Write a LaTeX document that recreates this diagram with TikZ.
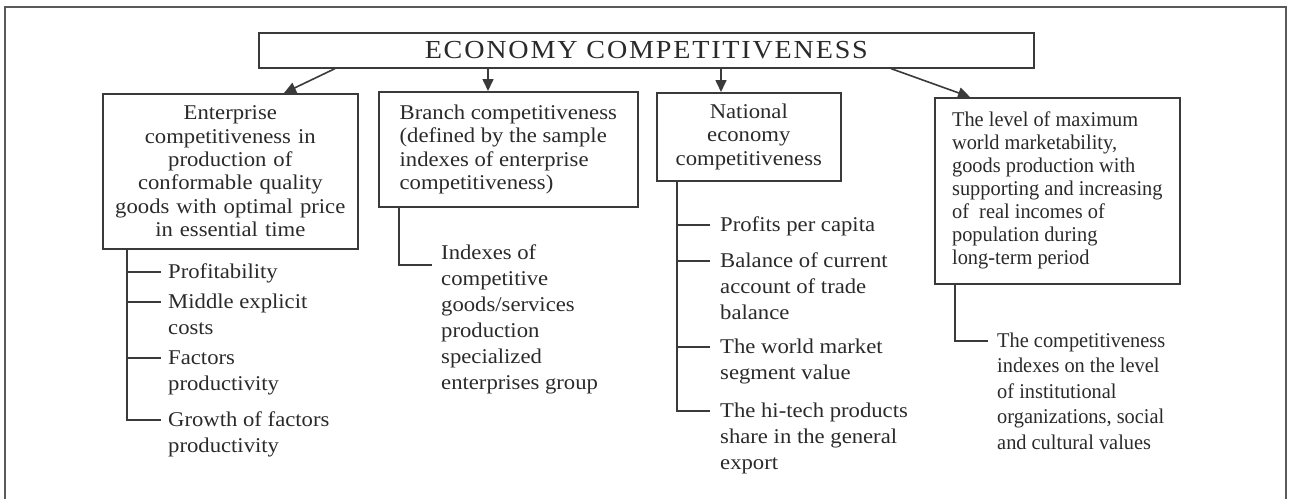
\documentclass[tikz,border=0pt]{standalone}
\usepackage{fontspec}
\setmainfont[FakeStretch=1.08]{Liberation Serif}
\newfontfamily\narrowserif[FakeStretch=0.97]{Liberation Serif}
\usetikzlibrary{arrows.meta}
\definecolor{ink}{HTML}{2A2A2A}
\definecolor{rule}{HTML}{3A3A3A}
\definecolor{framegray}{HTML}{5A5A5A}
% a left-aligned stack of lines whose baseline is that of its first line
\newcommand\itemlines[1]{\vtop{\halign{##\hfil\cr#1\crcr}}}
\tikzset{
  box/.style={draw=rule, line width=1.6pt, anchor=north west, inner ysep=0pt,
    text=ink, font=\fontsize{21}{23.3}\selectfont},
  cbox/.style={box, align=center, inner xsep=4pt},
  lbox/.style={box, align=left, inner xsep=0pt},
  item/.style={anchor=base west, inner sep=0pt, text=ink,
    font=\fontsize{21}{26}\selectfont},
  link/.style={draw=rule, line width=1.6pt},
  arr/.style={link, -{Triangle[length=12pt,width=11pt]}},
}
\begin{document}
\begin{tikzpicture}[x=1pt,y=-1pt]
\useasboundingbox (0,0) rectangle (1289,499);
% open outer frame
\draw[framegray, line width=1.5pt] (5,499) -- (5,7) -- (1286,7) -- (1286,499);

% title
\node[draw=rule, line width=1.6pt, anchor=north west, minimum width=775pt,
  minimum height=35pt, inner sep=0pt, text=ink,
  font=\fontsize{26}{30}\selectfont] (title) at (258,32)
  {\addfontfeature{LetterSpace=7}ECONOMY COMPETITIVENESS};

% four levels
\node[cbox, text width=247pt, minimum width=255pt, minimum height=155pt] (b1) at (102,93)
  {Enterprise\\competitiveness in\\production of\\conformable quality\\goods with optimal price\\in essential time};
\node[lbox, minimum width=259pt, minimum height=115pt] (b2) at (378,91)
  {Branch competitiveness\\(defined by the sample\\indexes of enterprise\\competitiveness)};
\node[cbox, text width=176pt, minimum width=184pt, minimum height=88pt] (b3) at (656,92)
  {National\\economy\\competitiveness};
\node[lbox, minimum width=245pt, minimum height=186pt,
  font=\narrowserif\fontsize{21}{23}\selectfont] (b4) at (934,97)
  {The level of maximum\\world marketability,\\goods production with\\supporting and increasing\\of\ \ real incomes of\\population during\\long-term period};

% arrows from the title
\draw[arr] ([xshift=77pt]title.south west) -- ([xshift=182pt]b1.north west);
\draw[arr] ([xshift=230pt]title.south west) -- ([xshift=110pt]b2.north west);
\draw[arr] ([xshift=463pt]title.south west) -- ([xshift=65pt]b3.north west);
\draw[arr] ([xshift=633pt]title.south west) -- ([xshift=36pt]b4.north west);

% enterprise indicators
\coordinate (j1) at ([xshift=25pt]b1.south west);
\coordinate (t11) at (161,272);
\coordinate (t12) at (161,302);
\coordinate (t13) at (161,358);
\coordinate (t14) at (161,420);
\node[item, xshift=7pt, yshift=-6pt] (i11) at (t11) {Profitability};
\node[item, xshift=7pt, yshift=-6pt] (i12) at (t12) {\itemlines{Middle explicit\cr costs}};
\node[item, xshift=7pt, yshift=-6pt] (i13) at (t13) {\itemlines{Factors\cr productivity}};
\node[item, xshift=7pt, yshift=-6pt] (i14) at (t14) {\itemlines{Growth of factors\cr productivity}};
\draw[link] (j1) |- (t14);
\draw[link] (t11 -| j1) -- (t11);
\draw[link] (t12 -| j1) -- (t12);
\draw[link] (t13 -| j1) -- (t13);

% branch indicators
\coordinate (j2) at ([xshift=21pt]b2.south west);
\coordinate (t21) at (432,265);
\node[item] (i21) at (441,259) {\itemlines{Indexes of\cr competitive\cr goods/services\cr production\cr specialized\cr enterprises group}};
\draw[link] (j2) |- (t21);

% national economy indicators
\coordinate (j3) at ([xshift=21pt]b3.south west);
\coordinate (t31) at (710,225);
\coordinate (t32) at (710,261);
\coordinate (t33) at (710,347);
\coordinate (t34) at (710,411);
\node[item, xshift=10pt, yshift=-6pt] (i31) at (t31) {Profits per capita};
\node[item, xshift=10pt, yshift=-6pt] (i32) at (t32) {\itemlines{Balance of current\cr account of trade\cr balance}};
\node[item, xshift=10pt, yshift=-6pt] (i33) at (t33) {\itemlines{The world market\cr segment value}};
\node[item, xshift=10pt, yshift=-6pt] (i34) at (t34) {\itemlines{The hi-tech products\cr share in the general\cr export}};
\draw[link] (j3) |- (t34);
\draw[link] (t31 -| j3) -- (t31);
\draw[link] (t32 -| j3) -- (t32);
\draw[link] (t33 -| j3) -- (t33);

% world-level indicators
\coordinate (j4) at ([xshift=21pt]b4.south west);
\coordinate (t41) at (988,341);
\node[item, xshift=9pt, yshift=-6pt, font=\narrowserif\fontsize{21}{25.5}\selectfont] (i41) at (t41)
  {\itemlines{The competitiveness\cr indexes on the level\cr of institutional\cr organizations, social\cr and cultural values}};
\draw[link] (j4) |- (t41);
\end{tikzpicture}
\end{document}
